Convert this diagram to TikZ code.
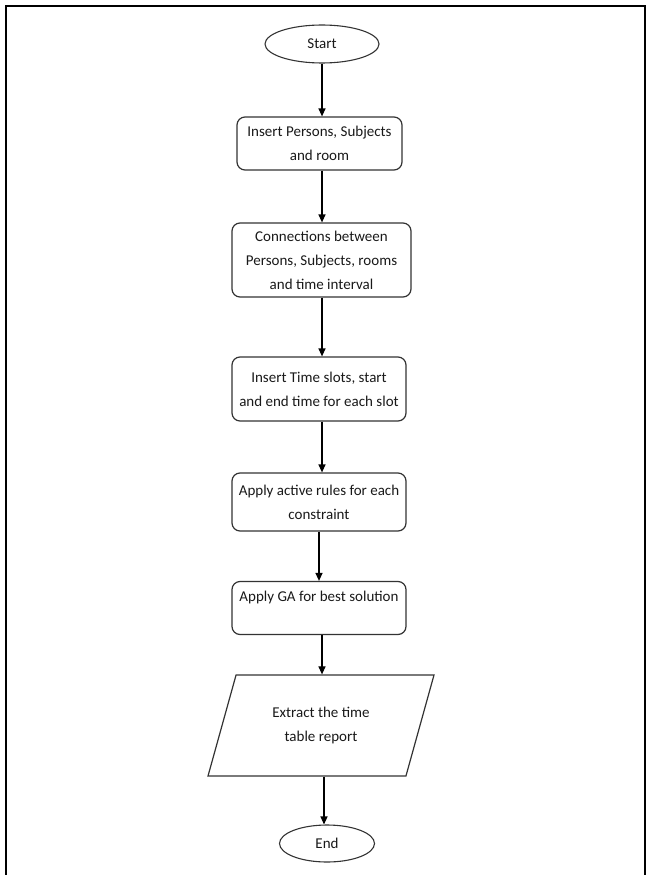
\documentclass[tikz,border=0pt]{standalone}
\usepackage{fontspec}
\setmainfont{Carlito}
\usetikzlibrary{shapes.geometric,arrows.meta}
\begin{document}
\begin{tikzpicture}[x=1pt,y=-1pt,
  txt/.style={font=\fontsize{15}{24}\selectfont, text=black!90, align=center},
  proc/.style={txt, draw=black!80, line width=1.2pt, rounded corners=8pt, inner sep=0pt},
  term/.style={txt, ellipse, draw=black!80, line width=1.1pt, inner sep=0pt},
  io/.style={txt, trapezium, trapezium left angle=52.7, trapezium right angle=127.3,
     trapezium stretches body, draw=black!80, line width=1.2pt, inner sep=0pt},
  arr/.style={-{Triangle[length=8pt,width=7pt]}, line width=1.2pt, black}
]
\useasboundingbox (0,0) rectangle (649,875);
\draw[line width=2.4pt] (6,875) -- (6,6) -- (645,6) -- (645,875);

\node[term, minimum width=114pt, minimum height=38pt] (start) at (322,44) {Start};
\node[proc, minimum width=165pt, minimum height=53pt] (b1) at (319.5,143.5) {Insert Persons, Subjects\\and room};
\node[proc, minimum width=179pt, minimum height=74pt] (b2) at (321.5,260) {Connections between\\Persons, Subjects, rooms\\and time interval};
\node[proc, minimum width=174pt, minimum height=64pt] (b3) at (319,389) {Insert Time slots, start\\and end time for each slot};
\node[proc, minimum width=174pt, minimum height=58pt] (b4) at (319,502) {Apply active rules for each\\constraint};
\node[proc, minimum width=174pt, minimum height=53pt] (b5) at (319,608) {Apply GA for best solution\\\mbox{}};
\node[io, minimum width=226pt, minimum height=101pt] (io) at (321,725.5) {Extract the time\\table report};
\node[term, minimum width=95pt, minimum height=37pt] (end) at (327,843.5) {End};

\draw[arr] (start.south) -- (start.south |- b1.north);
\draw[arr] (b1.south -| start.south) -- (start.south |- b2.north);
\draw[arr] (b2.south -| start.south) -- (start.south |- b3.north);
\draw[arr] (b3.south -| start.south) -- (start.south |- b4.north);
\draw[arr] (b4.south) -- (b4.south |- b5.north);
\draw[arr] (b5.south -| start.south) -- (start.south |- io.north);
\draw[arr] (io.south -| end.north) ++(-3,0) -- ([xshift=-3pt]end.north);
\end{tikzpicture}
\end{document}
